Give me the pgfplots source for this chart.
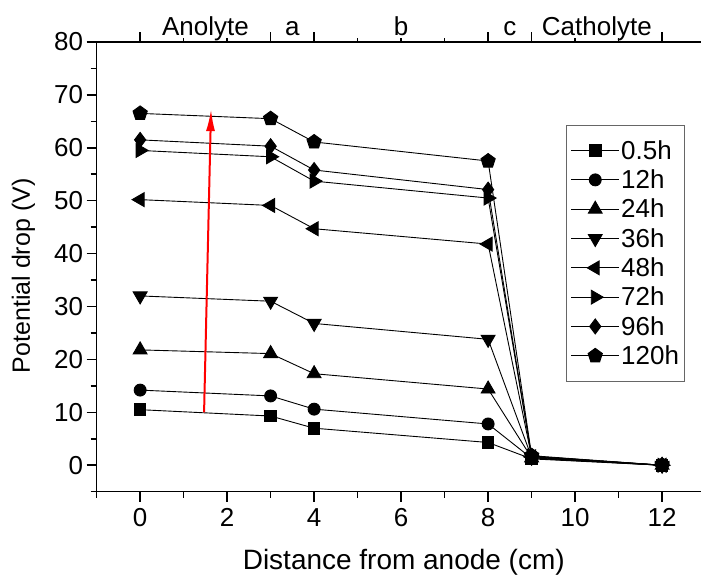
\documentclass[border=0pt]{standalone}
\usepackage{fontspec}
\setmainfont{Liberation Sans}
\usepackage{pgfplots}
\usepackage{pgfplotstable}
\pgfplotsset{compat=1.18}
\usetikzlibrary{arrows.meta}

% potential drop (V) vs distance from anode (cm)
\pgfplotstableread{
x   h05   h12   h24   h36   h48   h72   h96   h120
0   10.5  14.2  21.8  32.0  50.2  59.5  61.5  66.5
3   9.3   13.1  21.1  31.0  49.1  58.3  60.3  65.5
4   7.0   10.6  17.3  26.8  44.7  53.7  55.8  61.1
8   4.3   7.8   14.4  23.8  41.8  50.5  52.1  57.5
9   1.2   1.3   1.4   1.5   1.6   1.7   1.7   1.8
12  0.0   0.0   0.0   0.0   0.0   0.0   0.0   0.0
}\potdrop

\newcommand{\bigf}{\fontsize{26}{30}\selectfont}

\begin{document}
\begin{tikzpicture}
\begin{axis}[
  at={(0pt,0pt)}, anchor=south west,
  scale only axis, width=605pt, height=450pt,
  xmin=-1, xmax=12.9, ymin=-5, ymax=80,
  clip=false,
  axis x line*=bottom, axis y line*=left,
  tick align=outside,
  axis line style={line width=1.5pt},
  tick style={line width=1.5pt, black},
  major tick length=10pt, minor tick length=6pt,
  /pgf/number format/assume math mode=true,
  tick label style={font=\bigf},
  xticklabel style={yshift=-3pt},
  xtick={0,2,...,12}, minor xtick={-1,1,...,11},
  ytick={0,10,...,80}, minor ytick={-5,5,...,75},
  xlabel={Distance from anode (cm)},
  ylabel={Potential drop (V)},
  xlabel style={at={(axis description cs:0.508,-0.158)}, anchor=center, font=\fontsize{28}{32}\selectfont},
  ylabel style={at={(axis description cs:-0.121,0.48)}, anchor=center, rotate=0, font=\fontsize{25}{30}\selectfont},
  ser/.style={black, solid, line width=0.9pt, mark options={solid, fill=black}},
  legend style={at={(axis cs:9.8,64.4)}, anchor=north west, draw=black!60, line width=0.8pt,
    font=\bigf, row sep=6pt, inner xsep=4pt, inner ysep=14pt,
    nodes={inner sep=1.5pt}},
  legend cell align=left,
  legend image code/.code={\draw[mark repeat=2, mark phase=2] plot coordinates {(0pt,0pt) (24pt,0pt) (48pt,0pt)};},
]
\addplot[ser, mark=square*, mark size=5.8pt] table[x=x, y=h05] {\potdrop};
\addlegendentry{0.5h}
\addplot[ser, mark=*, mark size=6pt] table[x=x, y=h12] {\potdrop};
\addlegendentry{12h}
\addplot[ser, mark=triangle*, mark size=8pt] table[x=x, y=h24] {\potdrop};
\addlegendentry{24h}
\addplot[ser, mark=triangle*, mark size=8pt, mark options={rotate=180}] table[x=x, y=h36] {\potdrop};
\addlegendentry{36h}
\addplot[ser, mark=triangle*, mark size=8pt, mark options={rotate=90}] table[x=x, y=h48] {\potdrop};
\addlegendentry{48h}
\addplot[ser, mark=triangle*, mark size=8pt, mark options={rotate=-90}] table[x=x, y=h72] {\potdrop};
\addlegendentry{72h}
\addplot[ser, mark=diamond*, mark size=7.5pt] table[x=x, y=h96] {\potdrop};
\addlegendentry{96h}
\addplot[ser, mark=pentagon*, mark size=7.5pt] table[x=x, y=h120] {\potdrop};
\addlegendentry{120h}
\draw[red, line width=2pt, -{Latex[length=22pt, width=9pt]}] (axis cs:1.47,10) -- (axis cs:1.63,67.3);
% top axis marking the cell regions
\draw[line width=1.5pt] (rel axis cs:0,1) -- (rel axis cs:1,1);
\pgfplotsinvokeforeach{0,3,4,8,9,12}{\draw[line width=1.5pt] (axis cs:#1,80) -- ++(0pt,10pt);}
\pgfplotsinvokeforeach{1,2,5,6,7,10,11}{\draw[line width=1.5pt] (axis cs:#1,80) -- ++(0pt,4pt);}
\node[anchor=base, font=\bigf, yshift=6pt] at (axis cs:1.5,80) {Anolyte};
\node[anchor=base, font=\bigf, yshift=6pt] at (axis cs:3.5,80) {a};
\node[anchor=base, font=\bigf, yshift=6pt] at (axis cs:6,80) {b};
\node[anchor=base, font=\bigf, yshift=6pt] at (axis cs:8.5,80) {c};
\node[anchor=base, font=\bigf, yshift=6pt] at (axis cs:10.5,80) {Catholyte};
\end{axis}
\path[use as bounding box] (-96.7pt,-86pt) rectangle (605.3pt,492pt);
\end{tikzpicture}
\end{document}
